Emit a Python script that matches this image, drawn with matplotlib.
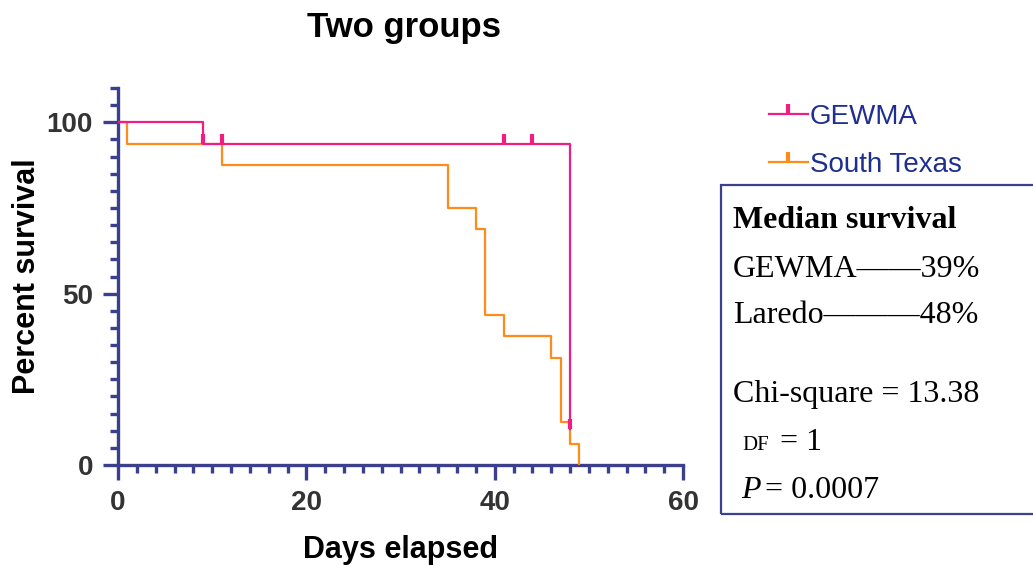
import matplotlib
matplotlib.use("Agg")
import matplotlib.pyplot as plt
from matplotlib.lines import Line2D
from matplotlib.patches import Rectangle
from matplotlib.ticker import MultipleLocator

# survival steps (day, percent)
gewma_days = [0, 9, 48]
gewma_surv = [100, 93.75, 10.5]
gewma_cens_days = [9, 11, 41, 44, 48]
gewma_cens_surv = [93.75, 93.75, 93.75, 93.75, 10.5]

stx_days = [0, 1, 11, 35, 38, 39, 41, 46, 47, 48, 49]
stx_surv = [100, 93.75, 87.5, 75, 68.75, 43.75, 37.5, 31.25, 12.5, 6.25, 0]

series_names = ["GEWMA", "South Texas"]
stat_lines = ["GEWMA\u2014\u201439%", "Laredo\u2014\u2014\u201448%"]

pink = "#F01E82"
orange = "#FF8C1A"
navy = "#3B3F8C"
W, H = 1033, 565

plt.rcParams["font.family"] = ["Liberation Sans", "DejaVu Sans"]

fig = plt.figure(figsize=(W / 100, H / 100), dpi=100)
ax = fig.add_axes([118 / W, 1 - 465 / H, (683 - 118) / W, (465 - 88) / H])

ax.step(stx_days, stx_surv, where="post", color=orange, lw=1.6, zorder=3)
ax.step(gewma_days, gewma_surv, where="post", color=pink, lw=1.6, zorder=4)
ax.plot(gewma_cens_days, gewma_cens_surv, ls="none", marker=2, ms=7, mew=3,
        color=pink, zorder=5)

ax.set_xlim(0, 60)
ax.set_ylim(0, 110)
ax.xaxis.set_major_locator(MultipleLocator(20))
ax.xaxis.set_minor_locator(MultipleLocator(2))
ax.yaxis.set_major_locator(MultipleLocator(50))
ax.yaxis.set_minor_locator(MultipleLocator(5))
for s in ["top", "right"]:
    ax.spines[s].set_visible(False)
for s in ["left", "bottom"]:
    ax.spines[s].set_color(navy)
    ax.spines[s].set_linewidth(2.4)
ax.tick_params(which="major", length=11, width=2.4, color=navy,
               labelsize=20, labelcolor="#333333", pad=7)
ax.tick_params(which="minor", length=6, width=2.4, color=navy)
for lab in ax.get_xticklabels() + ax.get_yticklabels():
    lab.set_fontweight("bold")

ax.set_xlabel("Days elapsed", fontsize=22, fontweight="bold", labelpad=14)
ax.set_ylabel("Percent survival", fontsize=22, fontweight="bold", labelpad=3)
fig.text(404 / W, 1 - 27 / H, "Two groups", fontsize=25, fontweight="bold",
         ha="center", va="center")

handles = [Line2D([], [], color=pink, lw=1.6, marker=2, ms=7, mew=3, markevery=[1]),
           Line2D([], [], color=orange, lw=1.6, marker=2, ms=7, mew=3, markevery=[1])]
for h in handles:
    h.set_xdata([0, 0.5, 1])
leg = fig.legend(handles, series_names, loc="center left",
                 bbox_to_anchor=(769 / W, 1 - 141 / H), frameon=False,
                 fontsize=20, handlelength=1.4, handletextpad=0.08,
                 labelspacing=0.78, borderaxespad=0, borderpad=0)
for t in leg.get_texts():
    t.set_color("#1F2F8F")

fig.patches.append(Rectangle((721 / W, 1 - 514 / H), 0.4, (514 - 185) / H,
                             transform=fig.transFigure, fill=False,
                             edgecolor=navy, lw=1.6))

serif = ["Liberation Serif", "DejaVu Serif"]
fs = 23
fig.text(733 / W, 1 - 228 / H, "Median survival", family=serif, fontsize=fs,
         fontweight="bold", va="baseline")
fig.text(733 / W, 1 - 277 / H, stat_lines[0], family=serif, fontsize=fs, va="baseline")
fig.text(733 / W, 1 - 323 / H, stat_lines[1], family=serif, fontsize=fs, va="baseline")
fig.text(733 / W, 1 - 402 / H, "Chi-square = 13.38", family=serif, fontsize=fs,
         va="baseline")
fig.text(742 / W, 1 - 450 / H, "DF", family=serif, fontsize=15, va="baseline")
fig.text(780 / W, 1 - 450 / H, "= 1", family=serif, fontsize=fs, va="baseline")
fig.text(741 / W, 1 - 498 / H, "P", family=serif, fontsize=fs, style="italic",
         va="baseline")
fig.text(765 / W, 1 - 498 / H, "= 0.0007", family=serif, fontsize=fs, va="baseline")

fig.savefig("out.png", dpi=100)
